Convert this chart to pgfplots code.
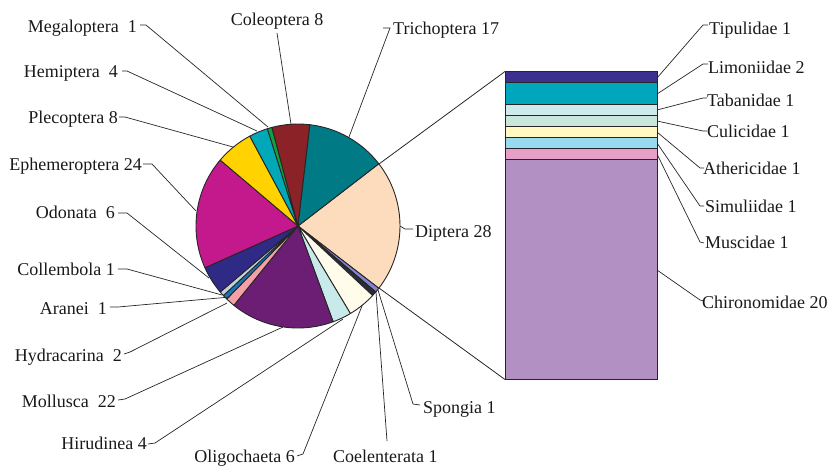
\documentclass[border=0pt]{standalone}
\usepackage{pgfplots}
\pgfplotsset{compat=1.18}
\usepackage{pgfplotstable}
\usepackage{fontspec}
\setmainfont{Liberation Serif}

\definecolor{cDip}{HTML}{FDDCBE}
\definecolor{cSpo}{HTML}{8484CC}
\definecolor{cCoe}{HTML}{2A2A3A}
\definecolor{cOli}{HTML}{FFFCEC}
\definecolor{cHir}{HTML}{C8EAEA}
\definecolor{cMol}{HTML}{6C1E74}
\definecolor{cHyd}{HTML}{F4A0A8}
\definecolor{cAra}{HTML}{1078B8}
\definecolor{cCol}{HTML}{C8D0E0}
\definecolor{cOdo}{HTML}{2E2A86}
\definecolor{cEph}{HTML}{C4198C}
\definecolor{cPle}{HTML}{FFD200}
\definecolor{cHem}{HTML}{00A8B8}
\definecolor{cMeg}{HTML}{12A040}
\definecolor{cCole}{HTML}{8B2228}
\definecolor{cTri}{HTML}{007A85}

\definecolor{bTip}{HTML}{3B2F8F}
\definecolor{bLim}{HTML}{00A6BC}
\definecolor{bTab}{HTML}{CDEBEC}
\definecolor{bCul}{HTML}{C8E6DA}
\definecolor{bAth}{HTML}{FFF8C0}
\definecolor{bSim}{HTML}{99DAF0}
\definecolor{bMus}{HTML}{E6A0C8}
\definecolor{bChi}{HTML}{B290C4}

\pgfplotstableread{
name value col
Diptera 28 cDip
Spongia 1 cSpo
Coelenterata 1 cCoe
Oligochaeta 6 cOli
Hirudinea 4 cHir
Mollusca 22 cMol
Hydracarina 2 cHyd
Aranei 1 cAra
Collembola 1 cCol
Odonata 6 cOdo
Ephemeroptera 24 cEph
Plecoptera 8 cPle
Hemiptera 4 cHem
Megaloptera 1 cMeg
Coleoptera 8 cCole
Trichoptera 17 cTri
}\pietable

\pgfplotstableread{
name value col
Chironomidae 20 bChi
Muscidae 1 bMus
Simuliidae 1 bSim
Athericidae 1 bAth
Culicidae 1 bCul
Tabanidae 1 bTab
Limoniidae 2 bLim
Tipulidae 1 bTip
}\bartable

\begin{document}
\begin{tikzpicture}[font=\fontsize{18}{20}\selectfont]
\pgfplotstablegetrowsof{\pietable}
\pgfmathtruncatemacro\lastrow{\pgfplotsretval-1}
\def\pietotal{0}
\pgfplotsforeachungrouped \i in {0,...,\lastrow}{%
  \pgfplotstablegetelem{\i}{value}\of\pietable
  \pgfmathsetmacro\pietotal{\pietotal+\pgfplotsretval}%
}
\pgfplotstablegetelem{0}{value}\of\pietable
\pgfmathsetmacro\startang{\pgfplotsretval/\pietotal*180}

\begin{axis}[at={(0,0)}, anchor=south west, x=1pt, y=1pt,
  xmin=0, xmax=832, ymin=0, ymax=467, y dir=reverse,
  hide axis, clip=false]
\def\cum{0}
\pgfplotsforeachungrouped \i in {0,...,\lastrow}{%
  \pgfplotstablegetelem{\i}{value}\of\pietable \let\pval\pgfplotsretval
  \pgfplotstablegetelem{\i}{col}\of\pietable \let\pcol\pgfplotsretval
  \pgfmathsetmacro\angA{\startang-\cum/\pietotal*360}%
  \pgfmathsetmacro\angB{\angA-\pval/\pietotal*360}%
  \pgfmathsetmacro\cum{\cum+\pval}%
  \edef\temp{\noexpand\filldraw[fill=\pcol, draw=black!85, line width=0.9pt, line join=round] (axis cs:298,226) -- ++(\angA:102pt) arc[start angle=\angA, end angle=\angB, radius=102pt] -- cycle;}%
  \temp
}
% pie-to-bar connectors
\draw[black!85, line width=0.8pt] (axis cs:379,164) -- (axis cs:505,71.5);
\draw[black!85, line width=0.8pt] (axis cs:379,288) -- (axis cs:505,379.5);

% leader lines
\begin{scope}[black!85, line width=0.7pt]
\draw (axis cs:140,25) -- (axis cs:146,25) -- (axis cs:268,127);
\draw (axis cs:277,33) -- (axis cs:291,124);
\draw (axis cs:383,28) -- (axis cs:390,28) -- (axis cs:349,137);
\draw (axis cs:122,71) -- (axis cs:127,71) -- (axis cs:257,131);
\draw (axis cs:119,117) -- (axis cs:125,117) -- (axis cs:233,147);
\draw (axis cs:143,164) -- (axis cs:152,164) -- (axis cs:196,211);
\draw (axis cs:118,213) -- (axis cs:127,213) -- (axis cs:209,278);
\draw (axis cs:118,269) -- (axis cs:127,269) -- (axis cs:222,295);
\draw (axis cs:110,307) -- (axis cs:118,307) -- (axis cs:230,297);
\draw (axis cs:124,354) -- (axis cs:130,352) -- (axis cs:227,303);
\draw (axis cs:118,400) -- (axis cs:125,399) -- (axis cs:283,327);
\draw (axis cs:148,444) -- (axis cs:155,443) -- (axis cs:343,319);
\draw (axis cs:297,456) -- (axis cs:303,454) -- (axis cs:362,306);
\draw (axis cs:387,441) -- (axis cs:376,292);
\draw (axis cs:420,405) -- (axis cs:413,404) -- (axis cs:378,290);
\draw (axis cs:400,226) -- (axis cs:405,229) -- (axis cs:413,229);
\draw (axis cs:657,78) -- (axis cs:703,25) -- (axis cs:708,25);
\draw (axis cs:657,94) -- (axis cs:703,64) -- (axis cs:708,64);
\draw (axis cs:657,110) -- (axis cs:703,98) -- (axis cs:707,98);
\draw (axis cs:657,121) -- (axis cs:703,131) -- (axis cs:707,131);
\draw (axis cs:657,132) -- (axis cs:700,168) -- (axis cs:704,168);
\draw (axis cs:657,143) -- (axis cs:700,206) -- (axis cs:704,206);
\draw (axis cs:657,154) -- (axis cs:700,242) -- (axis cs:704,243);
\draw (axis cs:657,270) -- (axis cs:700,300) -- (axis cs:704,301);
\end{scope}

% labels
\begin{scope}[every node/.style={inner sep=0pt, text=black!90}]
\node[anchor=base east] at (axis cs:137,32) {Megaloptera\ \ 1};
\node[anchor=base east] at (axis cs:118,77) {Hemiptera\ \ 4};
\node[anchor=base east] at (axis cs:118,123) {Plecoptera 8};
\node[anchor=base east] at (axis cs:142,170) {Ephemeroptera 24};
\node[anchor=base east] at (axis cs:115,218) {Odonata\ \ 6};
\node[anchor=base east] at (axis cs:115,275) {Collembola 1};
\node[anchor=base east] at (axis cs:107,314) {Aranei\ \ 1};
\node[anchor=base east] at (axis cs:122,361) {Hydracarina\ \ 2};
\node[anchor=base east] at (axis cs:116,407) {Mollusca\ \ 22};
\node[anchor=base east] at (axis cs:147,449) {Hirudinea 4};
\node[anchor=base east] at (axis cs:295,462) {Oligochaeta 6};
\node[anchor=base] at (axis cs:277,25) {Coleoptera 8};
\node[anchor=base west] at (axis cs:393,34) {Trichoptera 17};
\node[anchor=base west] at (axis cs:415,237) {Diptera 28};
\node[anchor=base west] at (axis cs:423,413) {Spongia 1};
\node[anchor=base west] at (axis cs:333,462) {Coelenterata 1};
\node[anchor=base west] at (axis cs:709,34) {Tipulidae 1};
\node[anchor=base west] at (axis cs:708,73) {Limoniidae 2};
\node[anchor=base west] at (axis cs:707,106) {Tabanidae 1};
\node[anchor=base west] at (axis cs:707,137) {Culicidae 1};
\node[anchor=base west] at (axis cs:703,174) {Athericidae 1};
\node[anchor=base west] at (axis cs:705,212) {Simuliidae 1};
\node[anchor=base west] at (axis cs:705,248) {Muscidae 1};
\node[anchor=base west] at (axis cs:702,308) {Chironomidae 20};
\end{scope}
\end{axis}

\begin{axis}[at={(505pt,87.5pt)}, anchor=south west, scale only axis,
  width=152pt, height=308pt, xmin=-0.5, xmax=0.5, ymin=0, ymax=28,
  hide axis, ybar stacked, bar width=152pt, clip=false]
\addplot[fill=bChi, draw=black!85, line width=0.9pt, restrict expr to domain={\coordindex}{0:0}] table[x expr=0, y=value] {\bartable};
\addplot[fill=bMus, draw=black!85, line width=0.9pt, restrict expr to domain={\coordindex}{1:1}] table[x expr=0, y=value] {\bartable};
\addplot[fill=bSim, draw=black!85, line width=0.9pt, restrict expr to domain={\coordindex}{2:2}] table[x expr=0, y=value] {\bartable};
\addplot[fill=bAth, draw=black!85, line width=0.9pt, restrict expr to domain={\coordindex}{3:3}] table[x expr=0, y=value] {\bartable};
\addplot[fill=bCul, draw=black!85, line width=0.9pt, restrict expr to domain={\coordindex}{4:4}] table[x expr=0, y=value] {\bartable};
\addplot[fill=bTab, draw=black!85, line width=0.9pt, restrict expr to domain={\coordindex}{5:5}] table[x expr=0, y=value] {\bartable};
\addplot[fill=bLim, draw=black!85, line width=0.9pt, restrict expr to domain={\coordindex}{6:6}] table[x expr=0, y=value] {\bartable};
\addplot[fill=bTip, draw=black!85, line width=0.9pt, restrict expr to domain={\coordindex}{7:7}] table[x expr=0, y=value] {\bartable};
\end{axis}
\pgfresetboundingbox
\path (0,0) rectangle (832pt,467pt);
\end{tikzpicture}
\end{document}
